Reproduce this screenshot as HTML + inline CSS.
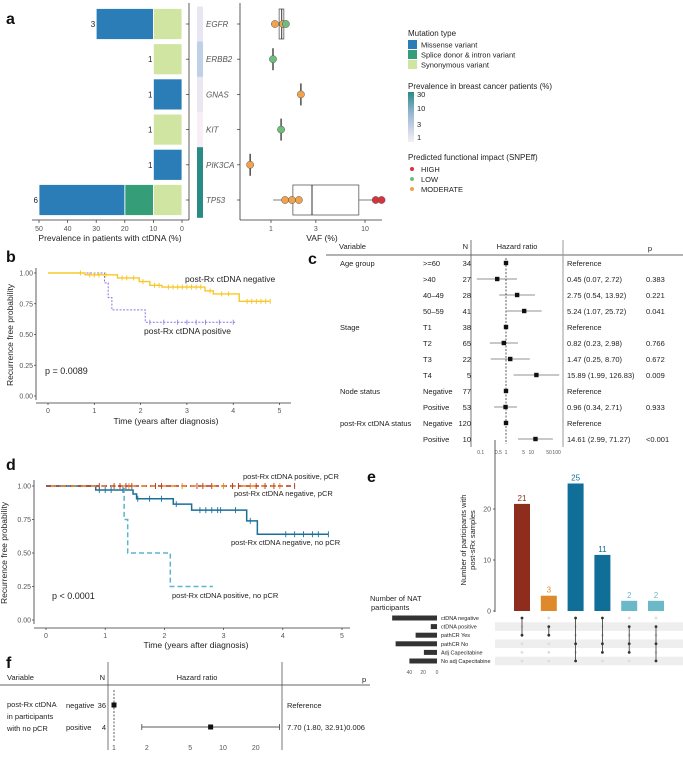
<!DOCTYPE html>
<html><head><meta charset="utf-8">
<style>
html,body{margin:0;padding:0;background:#fff;}
svg{display:block;font-family:"Liberation Sans",Arial,sans-serif;}
.t{font-size:7.5px;fill:#222;}
.tk{font-size:7px;fill:#555;}
.tt{font-size:8.5px;fill:#222;}
.pl{font-size:16px;font-weight:bold;fill:#111;}
.g{font-size:8px;fill:#555;font-style:italic;}
.ax{stroke:#333;stroke-width:0.8;fill:none;}
</style></head>
<body>
<svg id="fig" width="683" height="762" viewBox="0 0 683 762">
<text class="pl" x="6" y="24">a</text>
<text class="pl" x="6" y="262">b</text>
<text class="pl" x="308" y="264">c</text>
<text class="pl" x="6" y="470">d</text>
<text class="pl" x="367" y="482">e</text>
<text class="pl" x="6" y="668">f</text>

<g id="pa">
<line class="ax" x1="189" y1="3" x2="189" y2="220"/>
<line class="ax" x1="32" y1="220" x2="189" y2="220"/>
<text class="tt" x="110" y="241" text-anchor="middle">Prevalence in patients with ctDNA (%)</text>
<line class="ax" x1="240" y1="3" x2="240" y2="220"/>
<line class="ax" x1="240" y1="220" x2="382" y2="220"/>
<text class="tt" x="322" y="241" text-anchor="middle">VAF (%)</text>
</g>

<g>
<text class="t" x="408" y="36" style="font-size:8px">Mutation type</text>
<rect x="408" y="40" width="9" height="9" fill="#2b7db8"/>
<text class="t" x="421" y="47.5">Missense variant</text>
<rect x="408" y="50" width="9" height="9" fill="#359e79"/>
<text class="t" x="421" y="57.5">Splice donor &amp; intron variant</text>
<rect x="408" y="60" width="9" height="9" fill="#d1e5a3"/>
<text class="t" x="421" y="67.5">Synonymous variant</text>
<text class="t" x="408" y="89" style="font-size:8px">Prevalence in breast cancer patients (%)</text>
<defs><linearGradient id="gr" x1="0" y1="0" x2="0" y2="1"><stop offset="0" stop-color="#2a8a86"/><stop offset="0.45" stop-color="#9ab9d4"/><stop offset="1" stop-color="#f6eef6"/></linearGradient></defs>
<rect x="408" y="92" width="6" height="50" fill="url(#gr)"/>
<text class="t" x="417" y="97">30</text>
<text class="t" x="417" y="111">10</text>
<text class="t" x="417" y="127">3</text>
<text class="t" x="417" y="140">1</text>
<text class="t" x="408" y="160" style="font-size:8px">Predicted functional impact (SNPEff)</text>
<circle cx="412" cy="169" r="2" fill="#d7333c"/>
<text class="t" x="421" y="172">HIGH</text>
<circle cx="412" cy="179" r="2" fill="#6cbf7a"/>
<text class="t" x="421" y="182">LOW</text>
<circle cx="412" cy="189" r="2" fill="#f2a24a"/>
<text class="t" x="421" y="192">MODERATE</text>
</g>

<g>
<line class="ax" x1="36" y1="268" x2="36" y2="400"/>
<line class="ax" x1="36" y1="403" x2="291" y2="403"/>
<text class="tt" x="166" y="424" text-anchor="middle">Time (years after diagnosis)</text>
<text class="tt" x="13" y="335" text-anchor="middle" transform="rotate(-90 13 335)">Recurrence free probability</text>
<text class="tt" x="185" y="282">post-Rx ctDNA negative</text>
<text class="tt" x="144" y="334">post-Rx ctDNA positive</text>
<text class="tt" x="45" y="374" style="font-size:9px">p = 0.0089</text>
</g>

<g>
<text class="t" x="339" y="249">Variable</text>
<text class="t" x="468" y="249" text-anchor="end">N</text>
<text class="t" x="517" y="249" text-anchor="middle">Hazard ratio</text>
<text class="t" x="650" y="251" text-anchor="middle">p</text>
<line x1="326" y1="255" x2="683" y2="255" stroke="#333" stroke-width="0.8"/>
<line x1="471" y1="240" x2="471" y2="447" stroke="#555" stroke-width="0.8"/>
<line x1="563" y1="240" x2="563" y2="447" stroke="#999" stroke-width="1"/>
<text class="t" x="340" y="266">Age group</text>
<text class="t" x="340" y="330">Stage</text>
<text class="t" x="340" y="394">Node status</text>
<text class="t" x="340" y="426">post-Rx ctDNA status</text>
</g>
<g id="pc"></g>

<g>
<line class="ax" x1="34" y1="480" x2="34" y2="624"/>
<line class="ax" x1="34" y1="628" x2="350" y2="628"/>
<text class="tt" x="196" y="648" text-anchor="middle">Time (years after diagnosis)</text>
<text class="tt" x="7" y="553" text-anchor="middle" transform="rotate(-90 7 553)">Recurrence free probability</text>
<text class="t" x="243" y="479">post-Rx ctDNA positive, pCR</text>
<text class="t" x="234" y="496">post-Rx ctDNA negative, pCR</text>
<text class="t" x="231" y="545">post-Rx ctDNA negative, no pCR</text>
<text class="t" x="172" y="598">post-Rx ctDNA positive, no pCR</text>
<text class="tt" x="52" y="599" style="font-size:9px">p &lt; 0.0001</text>
</g>

<g>
<line class="ax" x1="495" y1="440" x2="495" y2="612"/>
<text class="t" x="466" y="540" text-anchor="middle" transform="rotate(-90 466 540)">Number of participants with</text>
<text class="t" x="475" y="540" text-anchor="middle" transform="rotate(-90 475 540)">post-sRx samples</text>
<text class="t" x="370" y="601">Number of NAT</text>
<text class="t" x="371" y="610">participants</text>
</g>

<g>
<text class="t" x="7" y="680">Variable</text>
<text class="t" x="105" y="680" text-anchor="end">N</text>
<text class="t" x="197" y="680" text-anchor="middle">Hazard ratio</text>
<text class="t" x="362" y="682">p</text>
<line x1="0" y1="685" x2="370" y2="685" stroke="#333" stroke-width="0.8"/>
<line x1="108" y1="662" x2="108" y2="750" stroke="#555" stroke-width="0.8"/>
<line x1="282" y1="662" x2="282" y2="750" stroke="#555" stroke-width="0.8"/>
<text class="t" x="7" y="707">post-Rx ctDNA</text>
<text class="t" x="7" y="719">in participants</text>
<text class="t" x="7" y="731">with no pCR</text>
</g>
<g id="pf"></g>
<g id="pa2"></g>
<g id="pb"></g>
<g id="pd"></g>
<g id="pe"></g>
</svg>
<script>
const genes=["EGFR","ERBB2","GNAS","KIT","PIK3CA","TP53"];
const geneCounts=[3,1,1,1,1,6];
const synonymousPct=[10,10,0,10,0,10];
const splicePct=[0,0,0,0,0,10];
const missensePct=[20,0,10,0,10,30];
const prevColors=["#e8e6f2","#c0d0e6","#ebe7f1","#f8eef6","#2a8a86","#2a8a86"];
const barTicks=[50,40,30,20,10,0];
const vafGene=[0,0,0,1,2,3,4,5,5,5,5,5];
const vafValues=[1.1,1.34,1.44,1.05,2.08,1.28,0.6,1.41,1.67,1.98,13,15];
const vafImpact=["M","M","L","L","M","L","M","M","M","M","H","H"];
const boxGene=[0,5];
const boxQ1=[1.22,1.71];
const boxMed=[1.3,2.73];
const boxQ3=[1.37,8.6];
const boxLo=[1.22,1.05];
const boxHi=[1.37,13];
const vafTicks=[1,3,10];

const bNegTimes=[0.8,1.5,1.97,2.2,2.46,3.39,3.57,4.13];
const bNegSurv=[0.985,0.96,0.93,0.90,0.886,0.855,0.83,0.77];
const bNegEnd=4.8;
const bNegCensor=[0.7,0.9,1.0,1.1,1.25,1.6,1.7,1.85,2.05,2.3,2.4,2.6,2.7,2.8,2.9,3.0,3.1,3.2,3.3,3.5,3.75,3.9,4.3,4.4,4.5,4.6,4.7,4.8];
const bPosTimes=[1.22,1.3,1.38,2.1];
const bPosSurv=[0.92,0.80,0.70,0.60];
const bPosEnd=4.04;
const bPosCensor=[2.2,2.5,2.8,3.0,3.2,3.4,3.7,4.0];
const survTicks=[0,0.25,0.5,0.75,1];
const timeTicks=[0,1,2,3,4,5];

const cLevels=[">=60",">40","40–49","50–59","T1","T2","T3","T4","Negative","Positive","Negative","Positive"];
const cN=[34,27,28,41,38,65,22,5,77,53,120,10];
const cHR=[1,0.45,2.75,5.24,1,0.82,1.47,15.89,1,0.96,1,14.61];
const cLo=[1,0.07,0.54,1.07,1,0.23,0.25,1.99,1,0.34,1,2.99];
const cHi=[1,2.72,13.92,25.72,1,2.98,8.70,126.83,1,2.71,1,71.27];
const cEst=["Reference","0.45 (0.07, 2.72)","2.75 (0.54, 13.92)","5.24 (1.07, 25.72)","Reference","0.82 (0.23, 2.98)","1.47 (0.25, 8.70)","15.89 (1.99, 126.83)","Reference","0.96 (0.34, 2.71)","Reference","14.61 (2.99, 71.27)"];
const cP=["","0.383","0.221","0.041","","0.766","0.672","0.009","","0.933","","<0.001"];
const cTicks=[0.1,0.5,1,5,10,50,100];

const dNegNoTimes=[0.84,1.47,1.53,2.15,2.46,3.39,3.57];
const dNegNoSurv=[0.97,0.94,0.905,0.865,0.82,0.74,0.64];
const dNegNoEnd=4.77;
const dNegNoCensor=[0.9,1.0,1.1,1.3,1.55,1.75,1.95,2.2,2.6,2.7,2.8,2.9,2.95,3.2,3.45,4.05,4.2,4.35,4.5,4.6,4.77];
const dPosNoTimes=[1.32,1.38,2.1];
const dPosNoSurv=[0.75,0.5,0.25];
const dPosNoEnd=2.82;
const dNegPcrEnd=4.2;
const dNegPcrCensor=[0.9,1.15,1.25,1.35,1.45,1.85,1.95,2.55,2.65,2.8,3.15,3.25,3.55,3.7,3.85,4.2];
const dPosPcrEnd=4.0;
const dPosPcrCensor=[1.4,2.3,3.0,3.45,3.95];

const eValues=[21,3,25,11,2,2];
const eColors=["#8e2d1e","#de8a2c","#106f99","#106f99","#6bb8c8","#6bb8c8"];
const eSets=["ctDNA negative","ctDNA positive","pathCR Yes","pathCR No","Adj Capecitabine","No adj Capecitabine"];
const eSetSizes=[65,9,31,60,19,40];
const eMembers=[[0,2],[1,2],[0,3,5],[0,3,4],[1,3,4],[1,3,5]];
const eTicks=[0,10,20];
const eSizeTicks=[40,20,0];

const fLevels=["negative","positive"];
const fN=[36,4];
const fHR=[1,7.70];
const fLo=[1,1.80];
const fHi=[1,32.91];
const fEst=["Reference","7.70 (1.80, 32.91)0.006"];
const fTicks=[1,2,5,10,20];

const NS="http://www.w3.org/2000/svg";
function mk(parent,tag,attrs,txt){const e=document.createElementNS(NS,tag);for(const k in attrs)e.setAttribute(k,attrs[k]);if(txt!==undefined)e.textContent=txt;parent.appendChild(e);return e;}
function stepPath(x,y,times,surv,end){let d="M"+x(0)+","+y(1);for(let i=0;i<times.length;i++){d+=" H"+x(times[i])+" V"+y(surv[i]);}d+=" H"+x(end);return d;}
function survAt(times,surv,t){let s=1;for(let i=0;i<times.length;i++){if(times[i]<=t)s=surv[i];}return s;}

const A=document.getElementById("pa2");
const rowY=i=>24+i*35.2;
const bx=v=>182-v*2.86;
barTicks.forEach(v=>{
  let e=mk(A,"line",{x1:bx(v),x2:bx(v),y1:220,y2:223,stroke:"#333","stroke-width":0.7});
  
  
  e=mk(A,"text",{x:bx(v),y:231,class:"tk","text-anchor":"middle"},String(v));
  
  
});
genes.forEach((g,i)=>{
  const y=rowY(i);
  let s0=0;
  const parts=[[synonymousPct[i],"#d1e5a3"],[splicePct[i],"#359e79"],[missensePct[i],"#2b7db8"]];
  parts.forEach(p=>{ if(p[0]>0){
    let e=mk(A,"rect",{x:bx(s0+p[0]),y:y-15.5,width:p[0]*2.86,height:31,fill:p[1],stroke:"#fff","stroke-width":0.8});
    
    
    s0+=p[0];}});
  let e=mk(A,"text",{x:bx(s0)-1,y:y+3,class:"t","text-anchor":"end",style:"font-size:8px"},String(geneCounts[i]));
  
  
  e=mk(A,"line",{x1:186,x2:189,y1:y,y2:y,stroke:"#333","stroke-width":0.7});
  
  
  e=mk(A,"rect",{x:197,y:y-17.6,width:6,height:35.4,fill:prevColors[i]});
  
  
  e=mk(A,"text",{x:206,y:y+3,class:"g"},g);
  
  
  e=mk(A,"line",{x1:237,x2:240,y1:y,y2:y,stroke:"#333","stroke-width":0.7});
  
  
});
const vx=v=>271+94*Math.log10(v);
vafTicks.forEach(v=>{
  let e=mk(A,"line",{x1:vx(v),x2:vx(v),y1:220,y2:223,stroke:"#333","stroke-width":0.7});
  
  
  e=mk(A,"text",{x:vx(v),y:231,class:"tk","text-anchor":"middle"},String(v));
  
  
});
genes.forEach((g,i)=>{
  if(boxGene.indexOf(i)>=0)return;
  const vals=vafValues.filter((v,k)=>vafGene[k]===i);
  const x=vx(vals[0]);
  let e=mk(A,"line",{x1:x,x2:x,y1:rowY(i)-11,y2:rowY(i)+11,stroke:"#222","stroke-width":1.2});
  
  
});
boxGene.forEach((gi,k)=>{
  const y=rowY(gi);
  let e=mk(A,"line",{x1:vx(boxLo[k]),x2:vx(boxHi[k]),y1:y,y2:y,stroke:"#555","stroke-width":0.7});
  
  
  e=mk(A,"rect",{x:vx(boxQ1[k]),y:y-15,width:vx(boxQ3[k])-vx(boxQ1[k]),height:30,fill:"#fff",stroke:"#444","stroke-width":0.7});
  
  
  e=mk(A,"line",{x1:vx(boxMed[k]),x2:vx(boxMed[k]),y1:y-15,y2:y+15,stroke:"#333","stroke-width":1});
  
  
});
const impCol={H:"#d7333c",L:"#6cbf7a",M:"#f2a24a"};
vafValues.forEach((v,k)=>{
  const e=mk(A,"circle",{cx:vx(v),cy:rowY(vafGene[k]),r:3.6,fill:impCol[vafImpact[k]],stroke:"#555","stroke-width":0.5});
  
  
});

const B=document.getElementById("pb");
const bX=t=>48+46.3*t, bY=v=>396-123*v;
survTicks.forEach(v=>{
  let e=mk(B,"text",{x:33,y:bY(v)+2.5,class:"tk","text-anchor":"end"},v.toFixed(2));
  
  
  e=mk(B,"line",{x1:34,x2:36,y1:bY(v),y2:bY(v),stroke:"#333","stroke-width":0.7});
  
  
});
timeTicks.forEach(t=>{
  let e=mk(B,"text",{x:bX(t),y:413,class:"tk","text-anchor":"middle"},String(t));
  
  
  e=mk(B,"line",{x1:bX(t),x2:bX(t),y1:403,y2:405,stroke:"#333","stroke-width":0.7});
  
  
});
let eb=mk(B,"path",{d:stepPath(bX,bY,bPosTimes,bPosSurv,bPosEnd),fill:"none",stroke:"#8877dd","stroke-width":1,"stroke-dasharray":"2,1.5"});


eb=mk(B,"path",{d:stepPath(bX,bY,bNegTimes,bNegSurv,bNegEnd),fill:"none",stroke:"#f7c82a","stroke-width":1.4});


bNegCensor.forEach(t=>{const y=bY(survAt(bNegTimes,bNegSurv,t));
  const e=mk(B,"line",{x1:bX(t),x2:bX(t),y1:y-2.5,y2:y+2.5,stroke:"#f7c82a","stroke-width":1});
  
  });
bPosCensor.forEach(t=>{const y=bY(survAt(bPosTimes,bPosSurv,t));
  const e=mk(B,"line",{x1:bX(t),x2:bX(t),y1:y-2.5,y2:y+2.5,stroke:"#8877dd","stroke-width":0.8});
  
  });

const C=document.getElementById("pc");
const cx=v=>506+25.3*Math.log10(v);
const cRowY=i=>263+i*16;
let ec=mk(C,"line",{x1:cx(1),x2:cx(1),y1:258,y2:444,stroke:"#333","stroke-width":0.8,"stroke-dasharray":"2,1.5"});


cLevels.forEach((l,i)=>{
  const y=cRowY(i);
  let e=mk(C,"text",{x:423,y:y+3,class:"t"},l);
  
  
  e=mk(C,"text",{x:471,y:y+3,class:"t","text-anchor":"end"},String(cN[i]));
  
  
  e=mk(C,"text",{x:567,y:y+3,class:"t"},cEst[i]);
  
  
  e=mk(C,"text",{x:646,y:y+3,class:"t"},cP[i]);
  
  
  if(cLo[i]!==cHi[i]){
    e=mk(C,"line",{x1:cx(cLo[i]),x2:cx(cHi[i]),y1:y,y2:y,stroke:"#222","stroke-width":0.6});
    
    }
  e=mk(C,"rect",{x:cx(cHR[i])-2.2,y:y-2.2,width:4.4,height:4.4,fill:"#111"});
  
  
});
cTicks.forEach(v=>{
  const e=mk(C,"text",{x:cx(v),y:454,class:"tk","text-anchor":"middle",style:"font-size:5px"},String(v));
  
  
});

const D=document.getElementById("pd");
const dX=t=>46+59.2*t, dY=v=>620-134*v;
survTicks.forEach(v=>{
  let e=mk(D,"text",{x:31,y:dY(v)+2.5,class:"tk","text-anchor":"end"},v.toFixed(2));
  
  
  e=mk(D,"line",{x1:32,x2:34,y1:dY(v),y2:dY(v),stroke:"#333","stroke-width":0.7});
  
  
});
timeTicks.forEach(t=>{
  let e=mk(D,"text",{x:dX(t),y:638,class:"tk","text-anchor":"middle"},String(t));
  
  
  e=mk(D,"line",{x1:dX(t),x2:dX(t),y1:628,y2:630,stroke:"#333","stroke-width":0.7});
  
  
});
let ed=mk(D,"path",{d:stepPath(dX,dY,dNegNoTimes,dNegNoSurv,dNegNoEnd),fill:"none",stroke:"#1a6e9a","stroke-width":1.5});


ed=mk(D,"path",{d:stepPath(dX,dY,dPosNoTimes,dPosNoSurv,dPosNoEnd),fill:"none",stroke:"#5bb5cc","stroke-width":1.5,"stroke-dasharray":"5,3"});


ed=mk(D,"path",{d:stepPath(dX,dY,[],[],dNegPcrEnd),fill:"none",stroke:"#b5341c","stroke-width":1.5,"stroke-dasharray":"5,3"});


ed=mk(D,"path",{d:stepPath(dX,dY,[],[],dPosPcrEnd),fill:"none",stroke:"#e8892b","stroke-width":1.5,"stroke-dasharray":"5,5","stroke-dashoffset":"5"});


dNegNoCensor.forEach(t=>{const y=dY(survAt(dNegNoTimes,dNegNoSurv,t));
  const e=mk(D,"line",{x1:dX(t),x2:dX(t),y1:y-3,y2:y+3,stroke:"#1a6e9a","stroke-width":0.9});
  
  });
dNegPcrCensor.forEach(t=>{
  const e=mk(D,"line",{x1:dX(t),x2:dX(t),y1:dY(1)-3,y2:dY(1)+3,stroke:"#b5341c","stroke-width":0.9});
  
  });
dPosPcrCensor.forEach(t=>{
  const e=mk(D,"line",{x1:dX(t),x2:dX(t),y1:dY(1)-3,y2:dY(1)+3,stroke:"#e8892b","stroke-width":0.9});
  
  });

const E=document.getElementById("pe");
const eY=v=>611-5.1*v, eX=i=>522+26.8*i;
const mRowY=j=>618+8.6*j;
eTicks.forEach(v=>{
  let e=mk(E,"text",{x:491,y:eY(v)+2.5,class:"tk","text-anchor":"end"},String(v));
  
  
  e=mk(E,"line",{x1:493,x2:495,y1:eY(v),y2:eY(v),stroke:"#333","stroke-width":0.7});
  
  
});
[1,3,5].forEach(j=>{
  const e=mk(E,"rect",{x:495,y:mRowY(j)-4.3,width:188,height:8.6,fill:"#eeeeee"});
  
  
});
eValues.forEach((v,i)=>{
  let e=mk(E,"rect",{x:eX(i)-8,y:eY(v),width:16,height:611-eY(v),fill:eColors[i]});
  
  
  e=mk(E,"text",{x:eX(i),y:eY(v)-3,class:"t","text-anchor":"middle",style:"font-size:8px;fill:"+eColors[i]},String(v));
  
  
  eSets.forEach((s,j)=>{
    const on=eMembers[i].indexOf(j)>=0;
    const d=mk(E,"circle",{cx:eX(i),cy:mRowY(j),r:1.4,fill:on?"#333":"#dddddd"});
    
    
  });
  const m=eMembers[i];
  e=mk(E,"line",{x1:eX(i),x2:eX(i),y1:mRowY(m[0]),y2:mRowY(m[m.length-1]),stroke:"#333","stroke-width":0.8});
  
  
});
const sX=v=>437-0.69*v;
eSets.forEach((s,j)=>{
  let e=mk(E,"rect",{x:sX(eSetSizes[j]),y:mRowY(j)-2.5,width:0.69*eSetSizes[j],height:5,fill:"#333"});
  
  
  e=mk(E,"text",{x:441,y:mRowY(j)+2,class:"t",style:"font-size:5.5px"},s);
  
  
});
eSizeTicks.forEach(v=>{
  const e=mk(E,"text",{x:sX(v),y:674,class:"tk","text-anchor":"middle",style:"font-size:5px"},String(v));
  
  
});

const F=document.getElementById("pf");
const fx=v=>114+109*Math.log10(v);
const fRowY=i=>705+22*i;
let ef=mk(F,"line",{x1:fx(1),x2:fx(1),y1:690,y2:742,stroke:"#333","stroke-width":0.8,"stroke-dasharray":"2,1.5"});


fLevels.forEach((l,i)=>{
  const y=fRowY(i);
  let e=mk(F,"text",{x:66,y:y+3,class:"t"},l);
  
  
  e=mk(F,"text",{x:106,y:y+3,class:"t","text-anchor":"end"},String(fN[i]));
  
  
  e=mk(F,"text",{x:287,y:y+3,class:"t"},fEst[i]);
  
  
  if(fLo[i]!==fHi[i]){
    e=mk(F,"line",{x1:fx(fLo[i]),x2:fx(fHi[i]),y1:y,y2:y,stroke:"#222","stroke-width":0.7});
    
    
    [fLo[i],fHi[i]].forEach(v=>{const c=mk(F,"line",{x1:fx(v),x2:fx(v),y1:y-3,y2:y+3,stroke:"#222","stroke-width":0.7});
      
      });
  }
  e=mk(F,"rect",{x:fx(fHR[i])-2.5,y:y-2.5,width:5,height:5,fill:"#111"});
  
  
});
fTicks.forEach(v=>{
  const e=mk(F,"text",{x:fx(v),y:750,class:"tk","text-anchor":"middle"},String(v));
  
  
});
</script>
</body></html>
